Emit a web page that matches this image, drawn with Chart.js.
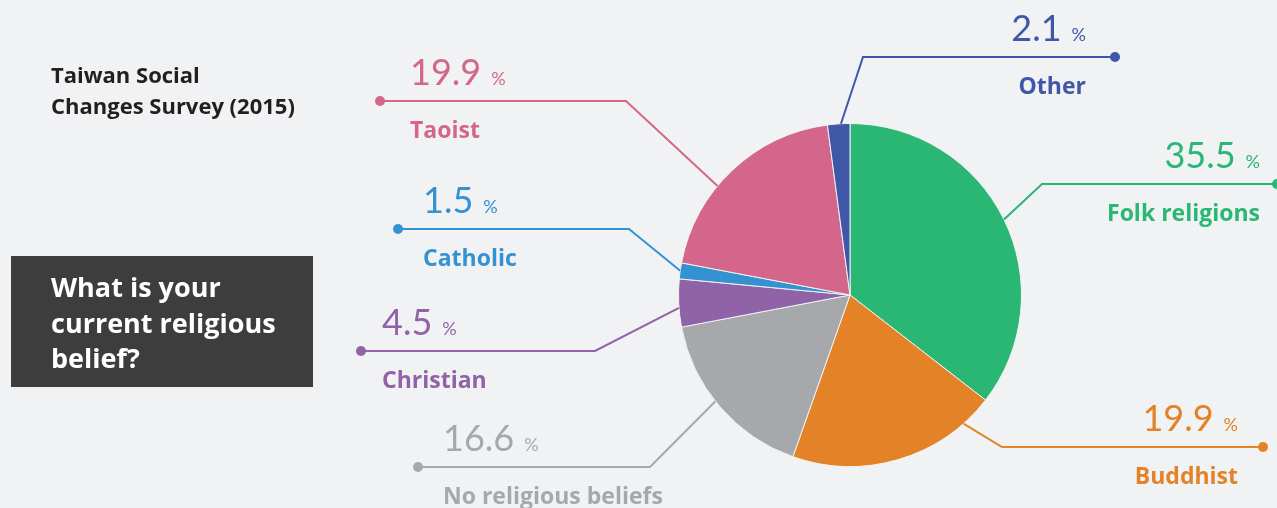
<!DOCTYPE html>
<html>
<head>
<meta charset="utf-8">
<script src="https://cdn.jsdelivr.net/npm/chart.js@4"></script>
<style>
  html, body { margin: 0; padding: 0; background: #f1f2f4; }
  canvas { display: block; }
</style>
</head>
<body>
<canvas id="chart" width="1277" height="508"></canvas>
<script>
// survey shares, clockwise from 12 o'clock
const categories = ["Folk religions", "Buddhist", "No religious beliefs", "Christian", "Catholic", "Taoist", "Other"];
const shares = [35.5, 19.9, 16.6, 4.5, 1.5, 19.9, 2.1];
const sliceColors = ["#2ab673", "#e38227", "#a7a8ab", "#9063a9", "#3592d1", "#d5668b", "#4057a8"];

const titleLines = ["Taiwan Social", "Changes Survey (2015)"];
const questionLines = ["What is your", "current religious", "belief?"];

// callout layout, one per slice (same order as categories)
const callouts = [
    { frac: 0.5, elbowX: 1042, lineY: 184, dotX: 1277, textX: 1260, align: "right" },
    { frac: 0.15, elbowX: 1002, lineY: 447, dotX: 1263, textX: 1238, align: "right" },
    { frac: 0.54, elbowX: 650, lineY: 467, dotX: 418, textX: 443, align: "left" },
    { frac: 0.4, elbowX: 595, lineY: 351, dotX: 361, textX: 382, align: "left" },
    { frac: 0.5, elbowX: 629, lineY: 229, dotX: 398, textX: 423, align: "left" },
    { frac: 0.4, elbowX: 626, lineY: 101, dotX: 380, textX: 410, align: "left" },
    { frac: 0.6, elbowX: 863, lineY: 57, dotX: 1115, textX: 1086, align: "right" }
];

const boldFont = "'Open Sans'";

const calloutPlugin = {
    id: "callouts",
    afterDraw(chart) {
        const ctx = chart.ctx;
        const arcs = chart.getDatasetMeta(0).data;
        ctx.save();

        // title
        ctx.fillStyle = "#231f20";
        ctx.font = "700 22px " + boldFont;
        ctx.textAlign = "left";
        ctx.textBaseline = "alphabetic";
        titleLines.forEach((t, i) => ctx.fillText(t, 51, 83 + i * 31));

        // question box
        ctx.fillStyle = "#3d3d3d";
        ctx.fillRect(11, 256, 302, 131);
        ctx.fillStyle = "#ffffff";
        ctx.font = "700 27px " + boldFont;
        questionLines.forEach((t, i) => ctx.fillText(t, 51, 297 + i * 35.5));

        arcs.forEach((arc, i) => {
            const c = callouts[i];
            const p = arc.getProps(["x", "y", "startAngle", "endAngle", "outerRadius"], true);
            const a = p.startAngle + c.frac * (p.endAngle - p.startAngle);
            const sx = p.x + p.outerRadius * Math.cos(a);
            const sy = p.y + p.outerRadius * Math.sin(a);
            const col = sliceColors[i];

            ctx.strokeStyle = col;
            ctx.fillStyle = col;
            ctx.lineWidth = 2;
            ctx.beginPath();
            ctx.moveTo(sx, sy);
            ctx.lineTo(c.elbowX, c.lineY);
            ctx.lineTo(c.dotX, c.lineY);
            ctx.stroke();
            ctx.beginPath();
            ctx.arc(c.dotX, c.lineY, 5, 0, Math.PI * 2);
            ctx.fill();

            const num = shares[i].toFixed(1);
            ctx.font = "400 36px Lato";
            const numW = ctx.measureText(num).width;
            ctx.font = "400 18px Lato";
            const pctW = ctx.measureText("%").width;
            const gap = 10;
            let nx = c.textX;
            if (c.align === "right") nx = c.textX - pctW - gap - numW;
            ctx.textAlign = "left";
            ctx.font = "400 36px Lato";
            ctx.fillText(num, nx, c.lineY - 16);
            ctx.font = "400 18px Lato";
            ctx.fillText("%", nx + numW + gap, c.lineY - 16);

            ctx.font = "700 23px " + boldFont;
            ctx.textAlign = c.align;
            ctx.fillText(categories[i], c.textX, c.lineY + 37);
        });
        ctx.restore();
    }
};

new Chart(document.getElementById("chart"), {
    type: "pie",
    data: {
        labels: categories,
        datasets: [
            {
                data: shares,
                backgroundColor: sliceColors,
                borderColor: "#f1f2f4",
                borderWidth: 1
            }
        ]
    },
    options: {
        responsive: false,
        animation: false,
        layout: {
            padding: { left: 678, right: 255, top: 123, bottom: 41 }
        },
        plugins: {
            legend: { display: false },
            tooltip: { enabled: false }
        }
    },
    plugins: [calloutPlugin]
});
</script>
</body>
</html>
